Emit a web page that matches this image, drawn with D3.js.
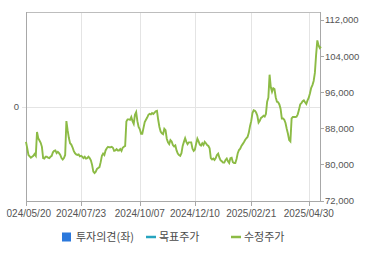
<!DOCTYPE html>
<html>
<head>
<meta charset="utf-8">
<script src="https://cdn.jsdelivr.net/npm/d3@7"></script>
<style>
    body { margin: 0; background: #fff; }
    .axis-label { font-family: "Liberation Sans", Arial, sans-serif; font-size: 10px; fill: #555; }
    .legend-label { font-family: "Noto Sans CJK KR", sans-serif; font-size: 11px; fill: #4a4a4a; }
</style>
</head>
<body>
<svg id="chart"></svg>
<script>
// x tick labels and their trading-day index
const tickLabels = ["2024/05/20", "2024/07/23", "2024/10/07", "2024/12/10", "2025/02/21", "2025/04/30"];
const tickIndex = [0, 45, 93, 138, 184, 231];

// right axis ticks (price)
const priceTicks = [72000, 80000, 88000, 96000, 104000, 112000];

// adjusted close, one value per trading day
const prices = [
    85000, 83600, 82100, 81800, 81500, 81700, 81900, 82300, 81900, 87200,
    85800, 85300, 84800, 83900, 81400, 81300, 81700, 81700, 81500, 81400,
    81700, 81900, 82700, 83000, 83100, 82500, 82800, 82500, 82100, 81400,
    81100, 81400, 82100, 89600, 87600, 85900, 84700, 84400, 83800, 83000,
    82500, 82200, 82100, 82200, 81800, 81900, 81700, 81400, 81700, 81300,
    81400, 81700, 81400, 80900, 79900, 78400, 78100, 78400, 79000, 79200,
    79400, 80500, 81900, 82400, 82100, 83100, 83600, 83900, 83800, 83800,
    83900, 83700, 83000, 83100, 83400, 83100, 83100, 83400, 83000, 83700,
    83900, 84100, 89500, 90000, 90000, 89900, 90500, 89600, 89000, 91000,
    91600, 89600, 88300, 87800, 86800, 86800, 88100, 89400, 89900, 90400,
    91000, 91200, 91100, 91400, 91200, 91500, 91800, 91900, 89900, 88300,
    87300, 86900, 86700, 87900, 87600, 85700, 84900, 84500, 85400, 85100,
    84300, 84000, 84200, 83100, 82400, 82100, 81900, 82500, 84100, 85000,
    85800, 85000, 84500, 84900, 84900, 84900, 83500, 83000, 83300, 84600,
    85700, 85100, 84400, 84200, 84700, 84300, 85000, 84700, 84300, 84100,
    83600, 81400, 81100, 81300, 81000, 81400, 82100, 82400, 81500, 80900,
    80700, 80400, 80400, 81000, 81300, 80700, 80300, 81400, 81500, 80500,
    80300, 80300, 81200, 82500, 83200, 83500, 84100, 84500, 84900, 85400,
    85800, 86100, 87000, 88500, 89600, 91400, 92000, 91900, 91500, 90800,
    89300, 89700, 90300, 90500, 90800, 90600, 91200, 93900, 94800, 99900,
    97100, 96100, 96900, 96700, 94900, 93900, 93800, 93300, 92300, 90200,
    90200, 89900, 89200, 87900, 86800, 85400, 85100, 90200, 90500, 90500,
    90500, 90600, 91100, 92100, 93300, 93600, 94000, 94200, 93800, 93400,
    94200, 94800, 95800, 97000, 97600, 98500, 100300, 104300, 107500, 106400,
    105800, 106100
];

// legend entries
const legendNames = ["투자의견(좌)", "목표주가", "수정주가"];
const legendColors = ["#2b78dc", "#26a4bf", "#8cbb45"];

const W = 370, H = 255;
const plot = { left: 26, right: 320, top: 12, bottom: 201 };

const svg = d3.select("#chart")
    .attr("width", W)
    .attr("height", H);

const x = d3.scaleLinear()
    .domain([0, prices.length - 1])
    .range([plot.left, plot.right + 1]);

const y = d3.scaleLinear()
    .domain([72000, 113800])
    .range([plot.bottom - 0.5, plot.top]);

// left axis has no data, only a 0 in the middle
const yLeft = d3.scaleLinear()
    .domain([-1, 1])
    .range([plot.bottom, plot.top]);

// vertical grid
svg.append("g")
    .selectAll("line")
    .data(tickIndex)
    .join("line")
    .attr("x1", d => Math.round(x(d)) + 0.5)
    .attr("x2", d => Math.round(x(d)) + 0.5)
    .attr("y1", plot.top)
    .attr("y2", plot.bottom + 4)
    .attr("stroke", "#e4e4e4");

// horizontal grid at left 0
svg.append("line")
    .attr("x1", plot.left - 4)
    .attr("x2", plot.right)
    .attr("y1", Math.round(yLeft(0)) + 0.5)
    .attr("y2", Math.round(yLeft(0)) + 0.5)
    .attr("stroke", "#e4e4e4");

// frame
svg.append("rect")
    .attr("x", plot.left + 0.5)
    .attr("y", plot.top + 0.5)
    .attr("width", plot.right - plot.left)
    .attr("height", plot.bottom - plot.top)
    .attr("fill", "none")
    .attr("stroke", "#bdbdbd");

// left, right and bottom axis lines
svg.append("line")
    .attr("x1", plot.left + 0.5).attr("x2", plot.left + 0.5)
    .attr("y1", plot.top).attr("y2", plot.bottom + 1)
    .attr("stroke", "#a8a8a8");
svg.append("line")
    .attr("x1", plot.right + 0.5).attr("x2", plot.right + 0.5)
    .attr("y1", plot.top).attr("y2", plot.bottom + 1)
    .attr("stroke", "#a8a8a8");
svg.append("line")
    .attr("x1", plot.left).attr("x2", plot.right + 1)
    .attr("y1", plot.bottom + 0.5).attr("y2", plot.bottom + 0.5)
    .attr("stroke", "#a8a8a8");

// bottom tick marks
svg.append("g")
    .selectAll("line")
    .data(tickIndex)
    .join("line")
    .attr("x1", d => Math.round(x(d)) + 0.5)
    .attr("x2", d => Math.round(x(d)) + 0.5)
    .attr("y1", plot.bottom)
    .attr("y2", plot.bottom + 5)
    .attr("stroke", "#a8a8a8");

// x labels, the first one is cut by the chart edge
svg.append("clipPath")
    .attr("id", "xclip")
    .append("rect")
    .attr("x", 6.5).attr("y", 0).attr("width", W).attr("height", H);

svg.append("g")
    .attr("clip-path", "url(#xclip)")
    .selectAll("text")
    .data(tickIndex)
    .join("text")
    .attr("class", "axis-label")
    .attr("x", d => x(d))
    .attr("y", plot.bottom + 16)
    .attr("text-anchor", "middle")
    .text((d, i) => tickLabels[i]);

// right axis ticks and labels
const rightAxis = svg.append("g");
rightAxis.selectAll("line")
    .data(priceTicks)
    .join("line")
    .attr("x1", plot.right)
    .attr("x2", plot.right + 4)
    .attr("y1", d => Math.round(y(d)) + 0.5)
    .attr("y2", d => Math.round(y(d)) + 0.5)
    .attr("stroke", "#a8a8a8");
rightAxis.selectAll("text")
    .data(priceTicks)
    .join("text")
    .attr("class", "axis-label")
    .attr("x", plot.right + 5)
    .attr("y", d => y(d))
    .attr("dy", "0.35em")
    .style("font-size", "9.5px")
    .text(d => d3.format(",")(d));

// left axis tick
svg.append("text")
    .attr("class", "axis-label")
    .attr("x", plot.left - 7)
    .attr("y", yLeft(0))
    .attr("dy", "0.35em")
    .attr("text-anchor", "end")
    .style("font-size", "9.5px")
    .text("0");

// price line
const line = d3.line()
    .x((d, i) => x(i))
    .y(d => y(d));

svg.append("path")
    .datum(prices)
    .attr("fill", "none")
    .attr("stroke", legendColors[2])
    .attr("stroke-width", 1.9)
    .attr("d", line);

// legend
const legendX = [62, 146, 231];
const legend = svg.append("g");
legendNames.forEach((name, i) => {
    const g = legend.append("g").attr("transform", `translate(${legendX[i]},237)`);
    if (i === 0) {
        g.append("rect")
            .attr("x", 0).attr("y", -4.5)
            .attr("width", 9).attr("height", 9)
            .attr("fill", legendColors[i]);
    } else {
        g.append("line")
            .attr("x1", 0).attr("x2", 10)
            .attr("y1", 0).attr("y2", 0)
            .attr("stroke", legendColors[i])
            .attr("stroke-width", 2.5);
    }
    g.append("text")
        .attr("class", "legend-label")
        .attr("x", i === 0 ? 14 : 13)
        .attr("y", 0)
        .attr("dy", "0.36em")
        .text(name);
});
</script>
</body>
</html>
